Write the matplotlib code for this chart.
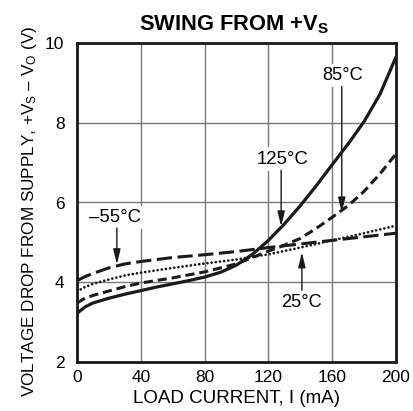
import matplotlib
matplotlib.use("Agg")
import matplotlib.pyplot as plt

plt.rcParams['font.family'] = ['Liberation Sans', 'DejaVu Sans']
plt.rcParams['mathtext.fontset'] = 'custom'
plt.rcParams['mathtext.rm'] = 'Liberation Sans'
plt.rcParams['mathtext.it'] = 'Liberation Sans:italic'
plt.rcParams['mathtext.bf'] = 'Liberation Sans:bold'

# Data (load current in mA, voltage drop in V)
i_125 = [0, 5, 10, 20, 30, 40, 50, 60, 70, 80, 90, 100, 110, 120, 130, 140, 150, 160, 170, 180, 190, 200]
v_125 = [3.22, 3.38, 3.48, 3.6, 3.7, 3.79, 3.88, 3.96, 4.04, 4.13, 4.25, 4.43, 4.7, 5.05, 5.46, 5.92, 6.42, 6.95, 7.47, 8.03, 8.72, 9.65]

i_85 = [0, 5, 10, 20, 30, 40, 60, 80, 100, 120, 130, 140, 150, 160, 170, 180, 190, 200]
v_85 = [3.48, 3.6, 3.67, 3.78, 3.89, 3.98, 4.11, 4.26, 4.46, 4.78, 4.93, 5.1, 5.35, 5.63, 5.92, 6.28, 6.72, 7.22]

i_25 = [0, 5, 10, 20, 30, 40, 60, 80, 100, 120, 140, 160, 180, 200]
v_25 = [3.77, 3.88, 3.96, 4.07, 4.17, 4.24, 4.36, 4.47, 4.57, 4.7, 4.87, 5.05, 5.23, 5.42]

i_m55 = [0, 5, 10, 20, 30, 40, 60, 80, 100, 120, 140, 160, 180, 200]
v_m55 = [4.04, 4.14, 4.22, 4.36, 4.46, 4.52, 4.62, 4.69, 4.77, 4.87, 4.96, 5.05, 5.14, 5.23]

x_ticks = [0, 40, 80, 120, 160, 200]
y_ticks = [2, 4, 6, 8, 10]

W, H = 414, 411
fig = plt.figure(figsize=(W / 100, H / 100), dpi=100)
ax = fig.add_axes([77 / W, 1 - 362 / H, (396 - 77) / W, (362 - 43) / H])

ax.set_xlim(0, 200)
ax.set_ylim(2, 10)
ax.set_xticks(x_ticks)
ax.set_yticks(y_ticks)
ax.grid(True, color='#7a7a7a', linewidth=1.0)
ax.set_axisbelow(True)
ax.tick_params(length=0, labelsize=12.5, colors='black')
ax.tick_params(axis='x', pad=6)
ax.tick_params(axis='y', pad=9)
for s in ax.spines.values():
    s.set_linewidth(2.0)
    s.set_color('#1a1a1a')

lc = '#1a1a1a'
ax.plot(i_125, v_125, color=lc, lw=2.3, solid_capstyle='butt', solid_joinstyle='round', zorder=3)
ax.plot(i_85, v_85, color=lc, lw=2.2, linestyle=(0, (3.0, 1.6)), zorder=3)
ax.plot(i_25, v_25, color=lc, lw=2.0, linestyle=(0, (0.01, 1.5)), dash_capstyle='round', zorder=3)
ax.plot(i_m55, v_m55, color=lc, lw=2.2, linestyle=(0, (5.0, 1.8)), zorder=3)

bbox = dict(facecolor='white', edgecolor='none', pad=2)
arrow = dict(arrowstyle='-|>,head_length=0.9,head_width=0.22', color=lc, lw=1.0, shrinkA=0, shrinkB=0)

renderer = fig.canvas.get_renderer()


def fit(t, target, axis=0):
    fs = t.get_fontsize()
    for _ in range(3):
        ext = t.get_window_extent(renderer)
        cur = ext.width if axis == 0 else ext.height
        fs = fs * target / cur
        t.set_fontsize(fs)


# -55°C
t = ax.text(23.8, 5.63, '–55°C', ha='center', va='center', fontsize=12, bbox=bbox, zorder=4)
fit(t, 52)
ax.annotate('', xy=(25, 4.45), xytext=(25, 5.36), arrowprops=arrow, zorder=4)
# 125°C
t = ax.text(128.8, 7.09, '125°C', ha='center', va='center', fontsize=12, bbox=bbox, zorder=4)
fit(t, 51.5)
ax.annotate('', xy=(128, 5.4), xytext=(128, 6.81), arrowprops=arrow, zorder=4)
# 85°C
t = ax.text(166.8, 9.19, '85°C', ha='center', va='center', fontsize=12, bbox=bbox, zorder=4)
fit(t, 40.6)
ax.annotate('', xy=(166, 5.75), xytext=(166, 8.91), arrowprops=arrow, zorder=4)
# 25°C
t = ax.text(140.5, 3.48, '25°C', ha='center', va='center', fontsize=12,
            bbox=dict(facecolor='white', edgecolor='none', pad=6), zorder=4)
fit(t, 41)
ax.annotate('', xy=(141, 4.75), xytext=(141, 3.8), arrowprops=arrow, zorder=4)

t = fig.text(233.5 / W, 1 - 25 / H, r'SWING FROM +V$_\mathbf{S}$', ha='center', va='center',
             fontsize=14, fontweight='bold')
fit(t, 189)
t = fig.text(236.5 / W, 1 - 398 / H, 'LOAD CURRENT, I (mA)', ha='center', va='center', fontsize=12)
fit(t, 207)
t = fig.text(30 / W, 1 - 211 / H,
             r'VOLTAGE DROP FROM SUPPLY, +V$_\mathregular{S}$ – V$_\mathregular{O}$ (V)',
             ha='center', va='center', rotation=90, fontsize=12)
fit(t, 372, axis=1)

fig.savefig('out.png', dpi=100)
